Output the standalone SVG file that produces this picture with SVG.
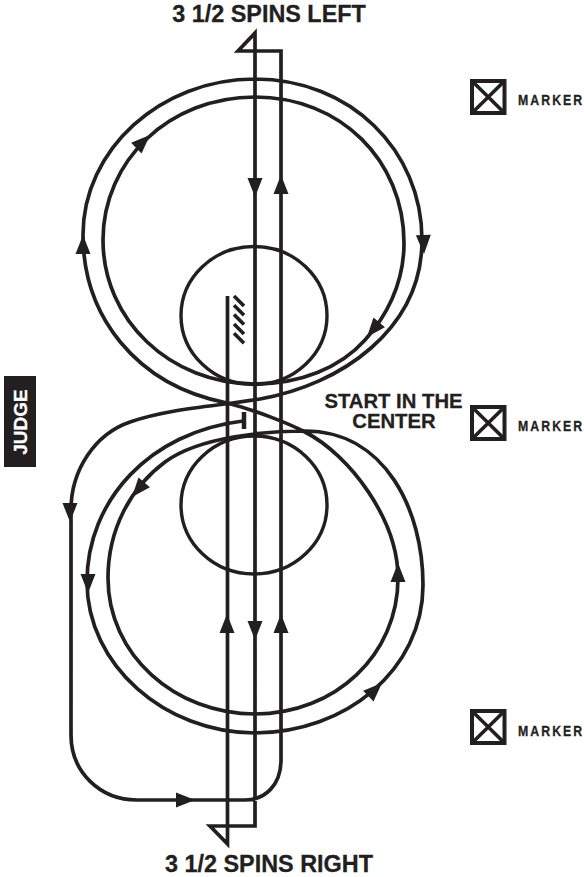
<svg xmlns="http://www.w3.org/2000/svg" xmlns:xlink="http://www.w3.org/1999/xlink" width="584" height="877" viewBox="0 0 584 877">
<style>
.l{fill:none;stroke:#231f20;stroke-width:3.7;stroke-linejoin:miter}
.c{fill:none;stroke:#231f20;stroke-width:3.4}
.h{stroke:#231f20;stroke-width:3.6;fill:none}
.a{fill:#231f20}
.t{font-family:"Liberation Sans",Arial,sans-serif;font-weight:700;fill:#231f20;text-anchor:middle;stroke:#231f20;stroke-width:.3}
.tt{font-size:23.4px}
.s{font-size:20.300px}
.m{font-size:15px;letter-spacing:2.500px;text-anchor:start}
.b{fill:#fff;stroke:#231f20;stroke-width:4}
</style>
<defs>
<path id="ah" class="a" d="M0 0L-19-7.500V7.500Z"/>
<g id="mk"><rect class="b" x="472" y="-16" width="32.500" height="32"/><path class="h" d="M472-16L504.500 16M504.500-16L472 16"/></g>
</defs>
<rect width="584" height="877" fill="#fff"/>
<g id="center-top"><ellipse class="c" cx="254" cy="315.500" rx="73" ry="69"/></g>
<g id="center-bottom"><ellipse class="c" cx="254" cy="505" rx="73" ry="69"/></g>
<g id="connectors">
<path class="l" d="M243 421C150 432 87 500 87 582C87 665 165 733 255 733C345 733 423 670 423 585C423 510 385 431 305 431C270 431 200 436 165 462C130 488 108 530 108 578C108 655 175 714 255 714C335 714 398 655 398 578C398 520 350 455 305 432C290 424 255 410 227 403C135 385 83 315 83 235C83 150 160 79 255 79C350 79 422 150 422 240C422 330 340 385 260 399C220 406 170 408 130 422C95 434 71 470 71 510V735C71 772 100 800 137 800H245C265 800 281 785 281 760V51H238L255 33V826H210L227.500 844V296"/>
<path class="l" d="M255 384C170 384 103 320 103 240C103 160 170 97 255 97C340 97 404 160 404 243C404 285 385 318 365 340C340 368 300 384 255 384Z"/>
<path d="M244 412V429" stroke="#231f20" stroke-width="4.500" fill="none"/>
<path class="h" d="M234 296L244 306M234 305.300L244 315.300M234 314.600L244 324.600M234 323.900L244 333.900M234 333.200L244 343.200"/>
<use xlink:href="#ah" href="#ah" transform="translate(255 197) rotate(90)"/>
<use xlink:href="#ah" href="#ah" transform="translate(281 175) rotate(-90)"/>
<use xlink:href="#ah" href="#ah" transform="translate(83 235) rotate(-90)"/>
<use xlink:href="#ah" href="#ah" transform="translate(424 254) rotate(88)"/>
<use xlink:href="#ah" href="#ah" transform="translate(150 135) rotate(-44)"/>
<use xlink:href="#ah" href="#ah" transform="translate(367 337) rotate(130)"/>
<use xlink:href="#ah" href="#ah" transform="translate(70 522) rotate(90)"/>
<use xlink:href="#ah" href="#ah" transform="translate(88 593) rotate(90)"/>
<use xlink:href="#ah" href="#ah" transform="translate(132 497) rotate(130)"/>
<use xlink:href="#ah" href="#ah" transform="translate(398 563) rotate(-90)"/>
<use xlink:href="#ah" href="#ah" transform="translate(382 683) rotate(-44)"/>
<use xlink:href="#ah" href="#ah" transform="translate(227 614) rotate(-90)"/>
<use xlink:href="#ah" href="#ah" transform="translate(255 640) rotate(90)"/>
<use xlink:href="#ah" href="#ah" transform="translate(281 614) rotate(-90)"/>
<use xlink:href="#ah" href="#ah" transform="translate(195 800)"/>
</g>
<g id="label-top"><text class="t tt" x="269" y="22">3 1/2 SPINS LEFT</text></g>
<g id="label-bottom"><text class="t tt" x="269" y="872">3 1/2 SPINS RIGHT</text></g>
<g id="label-start"><text class="t s" x="393.500" y="408">START IN THE</text><text class="t s" x="394" y="428">CENTER</text></g>
<g id="judge"><rect x="4" y="376" width="32" height="91" fill="#231f20"/><text class="t" style="fill:#fff;stroke:#fff;font-size:19px" transform="translate(26.500 422) rotate(-90)">JUDGE</text></g>
<g id="marker-1"><use xlink:href="#mk" href="#mk" transform="translate(0 97)"/><text class="t m" transform="translate(518 105) scale(.82 1)">MARKER</text></g>
<g id="marker-2"><use xlink:href="#mk" href="#mk" transform="translate(0 423)"/><text class="t m" transform="translate(518 431) scale(.82 1)">MARKER</text></g>
<g id="marker-3"><use xlink:href="#mk" href="#mk" transform="translate(0 727)"/><text class="t m" transform="translate(518 736) scale(.82 1)">MARKER</text></g>
</svg>
